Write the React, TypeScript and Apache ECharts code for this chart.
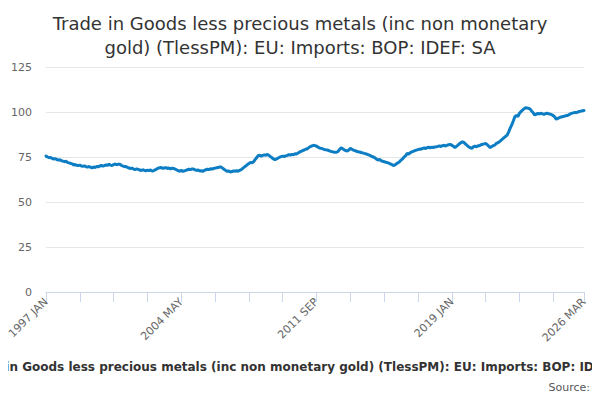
import { useEffect, useRef } from "react"
import * as echarts from "echarts"

const MONTHS = ["JAN", "FEB", "MAR", "APR", "MAY", "JUN", "JUL", "AUG", "SEP", "OCT", "NOV", "DEC"]

const values = [
  75.5, 75.0, 74.6, 74.8, 74.2, 73.9, 74.1, 73.6, 73.3, 73.5, 73.0, 72.7,
  72.4, 72.6, 72.0, 71.7, 71.5, 71.2, 70.6, 70.8, 70.4, 70.2, 70.5, 70.0,
  69.8, 70.1, 69.6, 69.4, 69.7, 69.3, 69.0, 69.4, 69.2, 69.8, 69.5, 70.0,
  70.3, 69.9, 70.2, 70.6, 70.4, 70.9, 70.5, 70.2, 70.8, 71.1, 70.7, 71.0,
  71.0, 70.4, 70.0, 69.6, 69.8, 69.2, 68.9, 68.6, 68.8, 68.3, 68.0, 68.4,
  68.1, 67.8, 67.5, 67.9, 67.6, 67.3, 67.7, 67.4, 67.8, 67.2, 67.4, 67.9,
  68.3, 68.8, 69.0, 69.2, 68.7, 68.9, 69.1, 68.6, 68.9, 68.4, 68.8, 68.6,
  68.3, 67.8, 67.4, 67.1, 67.5, 67.0, 67.3, 67.6, 67.9, 68.2, 68.0, 68.4,
  68.3, 67.9, 67.5, 67.8, 67.2, 67.4, 67.0, 67.6, 67.9, 68.2, 68.0, 68.5,
  68.3, 68.6, 68.8, 69.0, 69.2, 69.4, 69.4, 68.7, 68.1, 67.5, 67.0, 67.2,
  66.7, 66.9, 67.3, 67.0, 67.4, 67.1, 67.6, 68.0, 68.7, 69.4, 70.0, 70.8,
  71.3, 72.0, 71.8, 72.3, 73.5, 74.6, 75.7, 76.0, 75.5, 75.9, 76.2, 76.0,
  76.4, 75.9, 75.2, 74.6, 73.9, 73.5, 74.0, 74.4, 74.9, 75.2, 75.5, 75.3,
  75.6, 75.9, 76.3, 76.0, 76.5, 76.2, 76.8, 76.7, 77.2, 77.8, 78.1, 78.6,
  78.9, 79.3, 79.6, 80.2, 80.8, 81.2, 81.5, 81.3, 81.0, 80.5, 80.0, 79.8,
  79.5, 79.2, 79.0, 78.9, 78.6, 78.2, 78.0, 77.8, 77.7, 77.6, 78.1, 79.2,
  80.2, 79.6, 79.0, 78.6, 78.3, 78.9, 79.8, 79.3, 78.8, 78.5, 78.2, 77.9,
  77.8, 77.5, 77.3, 77.0, 76.8, 76.5, 76.2, 75.8, 75.3, 75.0, 74.5, 73.8,
  73.3, 73.6, 73.0, 72.6, 72.4, 72.1, 71.9, 71.6, 71.2, 70.8, 70.2, 70.6,
  71.2, 71.8, 72.4, 73.3, 74.0, 75.0, 75.8, 77.0, 76.6, 77.4, 77.8, 78.2,
  78.5, 78.8, 79.1, 79.4, 79.3, 79.8, 80.0, 79.7, 80.2, 80.4, 80.1, 80.5,
  80.3, 80.6, 80.7, 80.9, 81.2, 80.8, 81.3, 81.5, 81.1, 81.6, 81.8, 82.0,
  81.5, 81.0, 80.2, 80.9, 81.6, 82.4, 83.0, 83.5, 83.0, 82.2, 81.4, 80.6,
  80.2, 79.8, 80.6, 81.0, 80.7, 81.2, 81.3, 81.8, 82.1, 82.3, 82.6, 81.9,
  81.0, 80.2, 80.8, 81.3, 81.6, 82.6, 82.9, 83.5, 84.2, 85.0, 85.8, 86.5,
  87.2, 89.0, 91.0, 92.8, 95.0, 97.4, 98.0, 97.5, 99.3, 100.2, 101.0, 101.8,
  102.4, 102.2, 102.0, 101.6, 100.5, 99.5, 98.3, 98.8, 99.2, 98.9, 99.3, 99.0,
  98.7, 99.1, 99.3, 99.0, 98.8, 98.5, 98.0, 97.2, 95.9, 96.5, 96.9, 97.2,
  97.4, 97.6, 97.9, 98.0, 98.4, 98.9, 99.3, 99.5, 99.8, 99.6, 100.0, 100.3,
  100.5, 100.7, 100.8,
]

const categories = values.map((_, i) => `${1997 + Math.floor(i / 12)} ${MONTHS[i % 12]}`)
const labelIdx = [0, 88, 176, 264, 350]

const TITLE = "Trade in Goods less precious metals (inc non monetary\ngold) (TlessPM): EU: Imports: BOP: IDEF: SA"
const SUBTITLE = "Trade in Goods less precious metals (inc non monetary gold) (TlessPM): EU: Imports: BOP: IDEF: SA"

export default function App() {
  const ref = useRef<HTMLDivElement>(null)

  useEffect(() => {
    if (!ref.current) return
    const chart = echarts.init(ref.current, null, { renderer: "svg" })
    const last = values.length - 1
    chart.setOption({
      animation: false,
      textStyle: { fontFamily: "DejaVu Sans" },
      title: {
        text: TITLE,
        left: "center",
        top: 6,
        textStyle: { fontSize: 18, fontWeight: "normal", color: "#333", lineHeight: 24, align: "center" },
      },
      graphic: [
        {
          type: "text",
          x: 300,
          y: 367,
          style: { text: SUBTITLE, fontSize: 12, fontWeight: "bold", fill: "#333", align: "center", verticalAlign: "middle", fontFamily: "DejaVu Sans" },
        },
        {
          type: "text",
          x: 590,
          y: 387,
          style: { text: "Source:", fontSize: 11, fill: "#555", align: "right", verticalAlign: "middle", fontFamily: "DejaVu Sans" },
        },
      ],
      grid: { left: 46, right: 16, top: 67, bottom: 108 },
      xAxis: {
        type: "category",
        data: categories,
        boundaryGap: false,
        axisLine: { lineStyle: { color: "#ccd6eb" } },
        axisTick: {
          length: 10,
          lineStyle: { color: "#ccd6eb" },
          interval: (i: number) => i % 22 === 0 || i === last,
        },
        axisLabel: {
          rotate: 45,
          color: "#666",
          fontSize: 11,
          interval: (i: number) => labelIdx.includes(i),
          showMaxLabel: true,
        },
      },
      yAxis: {
        type: "value",
        min: 0,
        max: 125,
        interval: 25,
        axisLabel: { color: "#666", fontSize: 11, margin: 14 },
        splitLine: { lineStyle: { color: "#e6e6e6" } },
      },
      series: [
        {
          type: "line",
          data: values,
          symbol: "circle",
          symbolSize: 3,
          showSymbol: true,
          itemStyle: { color: "#0d7ec4" },
          lineStyle: { color: "#0d7ec4", width: 3 },
        },
      ],
    })
    return () => chart.dispose()
  }, [])

  return <div ref={ref} style={{ width: 600, height: 400, margin: -8 }} />
}
